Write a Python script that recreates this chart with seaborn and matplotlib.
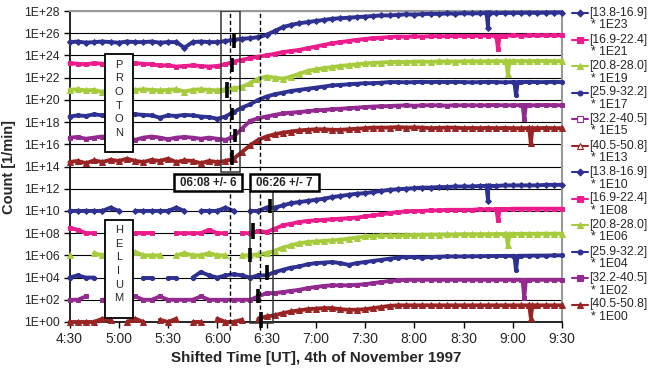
import numpy as np
import pandas as pd
import seaborn as sns
import matplotlib.pyplot as plt
from matplotlib.lines import Line2D
from matplotlib.patches import Rectangle
from matplotlib.ticker import NullLocator

nan = np.nan

# minutes after 4:30 UT, one value every 5 minutes
minutes = np.arange(0, 301, 5)
tick_minutes = [0, 30, 60, 90, 120, 150, 180, 210, 240, 270, 300]
tick_labels = ["4:30", "5:00", "5:30", "6:00", "6:30", "7:00", "7:30", "8:00", "8:30", "9:00", "9:30"]
ytick_exp = [0, 2, 4, 6, 8, 10, 12, 14, 16, 18, 20, 22, 24, 26, 28]
ytick_labels = ["1E+00", "1E+02", "1E+04", "1E+06", "1E+08", "1E+10", "1E+12", "1E+14",
                "1E+16", "1E+18", "1E+20", "1E+22", "1E+24", "1E+26", "1E+28"]

# log10 of the scaled count rate
p1 = [25.2, 25.25, 25.15, 25.2, 25.25, 25.2, 25.15, 25.25, 25.2, 25.2,
      25.25, 25.15, 25.2, 25.2, 24.7, 25.2, 25.25, 25.2, 25.2, 25.3,
      25.4, 25.5, 25.55, 25.65, 25.85, 26.2, 26.55, 26.75, 26.9, 27.0,
      27.1, 27.2, 27.3, 27.35, 27.4, 27.45, 27.5, 27.55, 27.6, 27.6,
      27.65, 27.7, 27.68, 27.72, 27.75, 27.73, 27.78, 27.76, 27.8, 27.78,
      27.8, 27.82, 27.8, 27.83, 27.82, 27.84, 27.85, 27.83, 27.85, 27.86,
      27.86]
p2 = [23.3, 23.25, 23.2, 23.3, 23.25, 23.15, 23.2, 23.25, 23.3, 23.25,
      23.2, 23.1, 23.1, 23.0, 23.05, 23.1, 23.05, 23.0, 23.05, 23.2,
      23.45, 23.6, 23.75, 23.9, 24.0, 24.15, 24.3, 24.4, 24.5, 24.65,
      24.8, 24.95, 25.1, 25.2, 25.3, 25.4, 25.48, 25.55, 25.6, 25.65,
      25.7, 25.68, 25.72, 25.7, 25.73, 25.74, 25.72, 25.75, 25.76, 25.74,
      25.77, 25.78, 25.76, 25.78, 25.8, 25.78, 25.8, 25.8, 25.82, 25.8,
      25.82]
p3 = [20.9, 20.95, 20.85, 20.9, 20.7, 20.95, 20.9, 20.85, 20.9, 20.95,
      20.9, 20.85, 20.9, 20.95, 20.75, 20.9, 20.95, 20.9, 20.85, 20.95,
      21.05, 21.15, 21.5, 21.9, 22.1, 22.0, 21.9, 22.1, 22.35, 22.6,
      22.75, 22.85, 22.95, 23.05, 23.12, 23.2, 23.28, 23.32, 23.36, 23.4,
      23.42, 23.4, 23.44, 23.45, 23.42, 23.46, 23.46, 23.44, 23.47, 23.48,
      23.46, 23.48, 23.49, 23.47, 23.5, 23.5, 23.48, 23.5, 23.5, 23.48,
      23.5]
p4 = [18.5, 18.6, 18.55, 18.7, 18.6, 18.5, 18.6, 18.55, 18.7, 18.65,
      18.6, 18.4, 18.6, 18.55, 18.65, 18.6, 18.5, 18.45, 18.3, 18.5,
      18.9, 19.3, 19.6, 20.0, 20.3, 20.5, 20.65, 20.8, 20.9, 21.0,
      21.1, 21.2, 21.3, 21.35, 21.4, 21.45, 21.5, 21.5, 21.55, 21.6,
      21.6, 21.58, 21.6, 21.62, 21.6, 21.62, 21.6, 21.62, 21.6, 21.58,
      21.6, 21.62, 21.6, 21.58, 21.6, 21.6, 21.62, 21.6, 21.6, 21.62,
      21.6]
p5 = [16.6, 16.65, 16.5, 16.6, 16.7, 16.55, 16.6, 16.65, 16.4, 16.6,
      16.7, 16.6, 16.45, 16.6, 16.65, 16.6, 16.5, 16.6, 16.5, 16.4,
      16.7, 17.4, 18.1, 18.35, 18.5, 18.65, 18.78, 18.85, 18.9, 18.98,
      19.05, 19.1, 19.15, 19.2, 19.25, 19.3, 19.35, 19.4, 19.42, 19.45,
      19.48, 19.5, 19.47, 19.5, 19.52, 19.5, 19.48, 19.52, 19.5, 19.52,
      19.5, 19.52, 19.54, 19.5, 19.52, 19.52, 19.5, 19.52, 19.54, 19.52,
      19.52]
p6 = [14.4, 14.5, 14.3, 14.55, 14.4, 14.6, 14.5, 14.7, 14.5, 14.4,
      14.6, 14.5, 14.7, 14.4, 14.55, 14.5, 14.3, 14.5, 14.4, 14.5,
      14.7, 15.3, 15.9, 16.4, 16.7, 16.9, 17.05, 17.15, 17.25, 17.3,
      17.35, 17.35, 17.3, 17.3, 17.35, 17.4, 17.45, 17.5, 17.5, 17.5,
      17.55, 17.5, 17.52, 17.5, 17.45, 17.48, 17.5, 17.5, 17.45, 17.47,
      17.45, 17.48, 17.45, 17.47, 17.45, 17.45, 17.48, 17.45, 17.47, 17.45,
      17.45]
h1 = [10.0, 10.0, 10.0, 10.0, 10.0, 10.3, 10.0, nan, 10.0, 10.0,
      10.0, 10.0, 10.0, 10.3, 10.0, nan, 10.0, 10.0, 10.0, 10.3,
      10.0, nan, 10.0, 10.0, 10.3, 10.3, 10.5, 10.7, 10.8, 10.9,
      11.0, 11.1, 11.25, 11.35, 11.45, 11.55, 11.6, 11.7, 11.8, 11.9,
      11.95, 12.0, 12.05, 12.1, 12.1, 12.15, 12.15, 12.2, 12.2, 12.2,
      12.25, 12.25, 12.25, 12.3, 12.3, 12.3, 12.3, 12.3, 12.35, 12.35,
      12.35]
h2 = [8.48, 8.3, 8.0, 8.0, nan, 8.0, 8.0, 8.0, 8.0, 8.0,
      8.0, nan, nan, 8.0, 8.0, 8.0, 8.0, 8.3, 8.0, 8.0,
      nan, 8.0, 8.0, 8.2, 8.1, 8.4, 8.7, 8.85, 9.0, 9.1,
      9.15, 9.2, 9.25, 9.3, 9.35, 9.4, 9.5, 9.6, 9.7, 9.8,
      9.9, 9.95, 10.0, 10.0, 10.05, 10.05, 10.1, 10.1, 10.1, 10.1,
      10.15, 10.15, 10.15, 10.15, 10.2, 10.2, 10.2, 10.2, 10.2, 10.2,
      10.2]
h3 = [6.0, nan, nan, 6.2, 6.0, 6.0, nan, nan, 6.3, 6.0,
      6.0, 6.0, nan, 6.0, 6.2, 6.0, 6.0, 6.2, 6.0, 6.0,
      nan, 6.0, 6.0, 6.1, 6.2, 6.4, 6.7, 6.9, 7.1, 7.2,
      7.25, 7.3, 7.35, 7.4, 7.5, 7.6, 7.7, 7.75, 7.8, 7.8,
      7.8, 7.82, 7.84, 7.85, 7.86, 7.87, 7.88, 7.88, 7.9, 7.9,
      7.9, 7.9, 7.92, 7.92, 7.92, 7.94, 7.94, 7.94, 7.95, 7.95,
      7.95]
h4 = [4.0, 4.2, 4.0, 4.0, nan, 4.3, 4.0, 4.0, nan, 4.0,
      4.0, nan, 4.0, 4.0, nan, 4.0, 4.5, 4.2, 4.0, 4.2,
      4.3, 4.2, 4.0, 4.2, 4.2, 4.5, 4.7, 4.9, 5.0, 5.2,
      5.3, 5.35, 5.4, 5.3, 5.15, 5.3, 5.4, 5.5, 5.6, 5.7,
      5.8, 5.85, 5.85, 5.8, 5.85, 5.88, 5.9, 5.9, 5.9, 5.92,
      5.92, 5.94, 5.94, 5.95, 5.95, 5.96, 5.97, 5.98, 5.98, 6.0,
      6.0]
h5 = [2.0, 2.0, 2.3, nan, 2.0, 2.0, 2.0, 2.0, 2.3, 2.0,
      2.0, 2.3, 2.0, 2.0, 2.0, 2.0, 2.3, 2.0, 2.0, 2.0,
      2.0, 2.0, 2.0, 2.3, 2.6, 2.6, 2.7, 2.8, 2.9, 3.05,
      3.15, 3.25, 3.3, 3.3, 3.3, 3.35, 3.4, 3.5, 3.6, 3.7,
      3.75, 3.8, 3.8, 3.8, 3.8, 3.8, 3.8, 3.8, 3.8, 3.8,
      3.8, 3.8, 3.8, 3.8, 3.8, 3.8, 3.8, 3.8, 3.8, 3.8,
      3.8]
h6 = [0.0, 0.0, 0.0, 0.0, 0.3, 0.15, nan, 0.0, 0.3, 0.0,
      nan, 0.2, 0.0, 0.3, nan, 0.0, 0.0, nan, 0.3, 0.0,
      0.0, 0.2, nan, 0.3, 0.5, 0.6, 0.8, 0.95, 1.05, 1.15,
      1.2, 1.25, 1.25, 1.15, 1.1, 1.1, 1.15, 1.25, 1.35, 1.45,
      1.5, 1.5, 1.5, 1.5, 1.5, 1.5, 1.5, 1.5, 1.5, 1.5,
      1.5, 1.5, 1.5, 1.5, 1.5, 1.5, 1.5, 1.5, 1.5, 1.5,
      1.5]

# single-minute dropouts near the end of every channel: minute, band level around it, bottom
dip_minutes = [255, 261, 267, 272, 277, 281]
p_dip_band = [27.82, 25.78, 23.48, 21.6, 19.52, 17.45]
p_dips = [26.5, 24.6, 22.3, 20.4, 18.3, 16.1]
h_dip_band = [12.25, 10.15, 7.92, 5.96, 3.8, 1.5]
h_dips = [10.85, 9.15, 6.9, 4.65, 2.15, 0.4]

# onset times with their uncertainty bars
event_minutes = [98, 116]
bar_min_p = [100, 99, 96, 99, 101, 99]
bar_lo_p = [24.65, 22.5, 20.2, 18.2, 16.2, 14.1]
bar_hi_p = [26.0, 23.8, 21.6, 19.3, 17.4, 15.5]
bar_min_h = [122, 112, 110, 120, 115, 116.5]
bar_lo_h = [9.8, 7.5, 5.4, 3.75, 1.7, -0.55]
bar_hi_h = [11.1, 8.9, 6.7, 5.1, 3.0, 0.9]

channels = ["[13.8-16.9]", "[16.9-22.4]", "[20.8-28.0]", "[25.9-32.2]", "[32.2-40.5]", "[40.5-50.8]"]
p_factors = ["* 1E23", "* 1E21", "* 1E19", "* 1E17", "* 1E15", "* 1E13"]
h_factors = ["* 1E10", "* 1E08", "* 1E06", "* 1E04", "* 1E02", "* 1E00"]
colors = ["#2e3192", "#ec1c8c", "#a6cb3c", "#2e3192", "#932a8f", "#9a2424"]
markers = ["D", "s", "^", "o", "s", "^"]
msizes = [3, 3.5, 4, 3, 3.5, 4]

sns.set_style("white")
plt.rcParams["font.family"] = ["Liberation Sans", "DejaVu Sans"]

fig = plt.figure(figsize=(6.48, 3.72), dpi=100)
ax = fig.add_axes([69.5 / 648, 1 - 322 / 372, 492.5 / 648, 311 / 372])
ax.set_yscale("log")


def make_frame(vals, dip_t, band, dip_v):
    df = pd.DataFrame({"t": minutes, "v": vals})
    dip = pd.DataFrame({"t": [dip_t - 1, dip_t, dip_t + 1], "v": [band, dip_v, band]})
    df = pd.concat([df, dip]).sort_values("t")
    df["seg"] = df["v"].isna().cumsum()
    df = df.dropna()
    df["count"] = 10.0 ** df["v"]
    return df


proton = [p1, p2, p3, p4, p5, p6]
helium = [h1, h2, h3, h4, h5, h6]
for group, bands, dips in [(proton, p_dip_band, p_dips), (helium, h_dip_band, h_dips)]:
    for i, vals in enumerate(group):
        df = make_frame(vals, dip_minutes[i], bands[i], dips[i])
        sns.lineplot(data=df, x="t", y="count", units="seg", estimator=None, ax=ax,
                     color=colors[i], lw=2.8, marker=markers[i], markersize=msizes[i],
                     markerfacecolor=colors[i], markeredgecolor=colors[i],
                     markeredgewidth=0.7, legend=False, zorder=3, clip_on=False)

ax.set_xlim(0, 300)
ax.set_ylim(1, 1e28)
ax.set_xticks(tick_minutes)
ax.set_xticklabels(tick_labels, fontsize=10)
ax.set_yticks([10.0 ** e for e in ytick_exp])
ax.set_yticklabels(ytick_labels, fontsize=8.7)
ax.yaxis.set_minor_locator(NullLocator())
ax.tick_params(axis="both", direction="out", length=4, width=1, color="black", pad=3, left=True, bottom=True)
ax.grid(axis="y", color="black", lw=0.8, zorder=1)
ax.grid(axis="x", visible=False)
for side in ["left", "bottom"]:
    ax.spines[side].set_color("black")
    ax.spines[side].set_linewidth(1.2)
for side in ["top", "right"]:
    ax.spines[side].set_color("#999999")
    ax.spines[side].set_linewidth(1.5)
ax.set_xlabel("Shifted Time [UT], 4th of November 1997", fontsize=10.9, fontweight="bold", labelpad=4)
ax.set_ylabel("Count [1/min]", fontsize=10.5, fontweight="bold", labelpad=6)

# onset windows
for t in event_minutes:
    ax.plot([t, t], [10 ** -0.75, 1e28], color="black", lw=1, ls=(0, (3, 2)), zorder=4, clip_on=False)
ax.add_patch(Rectangle((92, 10 ** 13.5), 12, 1e28 - 10 ** 13.5, fill=False, ec="#333333", lw=1.1, zorder=4))
ax.add_patch(Rectangle((110, 10 ** -0.1), 14, 10 ** 11.8 - 10 ** -0.1, fill=False, ec="#333333", lw=1.1,
                       zorder=4, clip_on=False))
for t, lo, hi in zip(bar_min_p + bar_min_h, bar_lo_p + bar_lo_h, bar_hi_p + bar_hi_h):
    ax.plot([t, t], [10 ** lo, 10 ** hi], color="black", lw=2.6, solid_capstyle="butt", zorder=6, clip_on=False)

for x0, x1, label in [(63.6, 105, "06:08 +/- 6"), (109.9, 151.9, "06:26 +/- 7")]:
    ax.add_patch(Rectangle((x0, 10 ** 11.8), x1 - x0, 10 ** 13.3 - 10 ** 11.8, fc="white", ec="black",
                           lw=1.8, zorder=7))
    ax.text((x0 + x1) / 2, 10 ** 12.55, label, ha="center", va="center", fontsize=8.3, fontweight="bold",
            color="#222222", zorder=8)

for y0, y1, yc, word in [(15.3, 24.1, 20.1, "PROTON"), (0.4, 9.15, 5.2, "HELIUM")]:
    ax.add_patch(Rectangle((21.6, 10 ** y0), 17.1, 10 ** y1 - 10 ** y0, fc="white", ec="black", lw=1.3, zorder=7))
    ax.text(30.15, 10 ** yc, "\n".join(word), ha="center", va="center", fontsize=8, linespacing=1.45,
            zorder=8)

# legend beside the plot (proton purple and red drawn hollow as in the original)
legend_faces = [None, None, None, None, "white", "white", None, None, None, None, None, None]
labels = channels + channels
factors = p_factors + h_factors
for k in range(12):
    i = k % 6
    y = 1 - (13 + 26.5 * k) / 372
    fig.add_artist(Line2D([572 / 648, 580 / 648, 588 / 648], [y, y, y], transform=fig.transFigure,
                          color=colors[i], lw=1.5, marker=markers[i], markevery=[1], markersize=msizes[i] + 0.5,
                          markerfacecolor=legend_faces[k] or colors[i], markeredgecolor=colors[i],
                          markeredgewidth=0.8))
    fig.text(589 / 648, y, labels[k], ha="left", va="center", fontsize=8.8)
    fig.text(591 / 648, y - 12.5 / 372, factors[k], ha="left", va="center", fontsize=8.8)

fig.savefig("out.png", dpi=100)
